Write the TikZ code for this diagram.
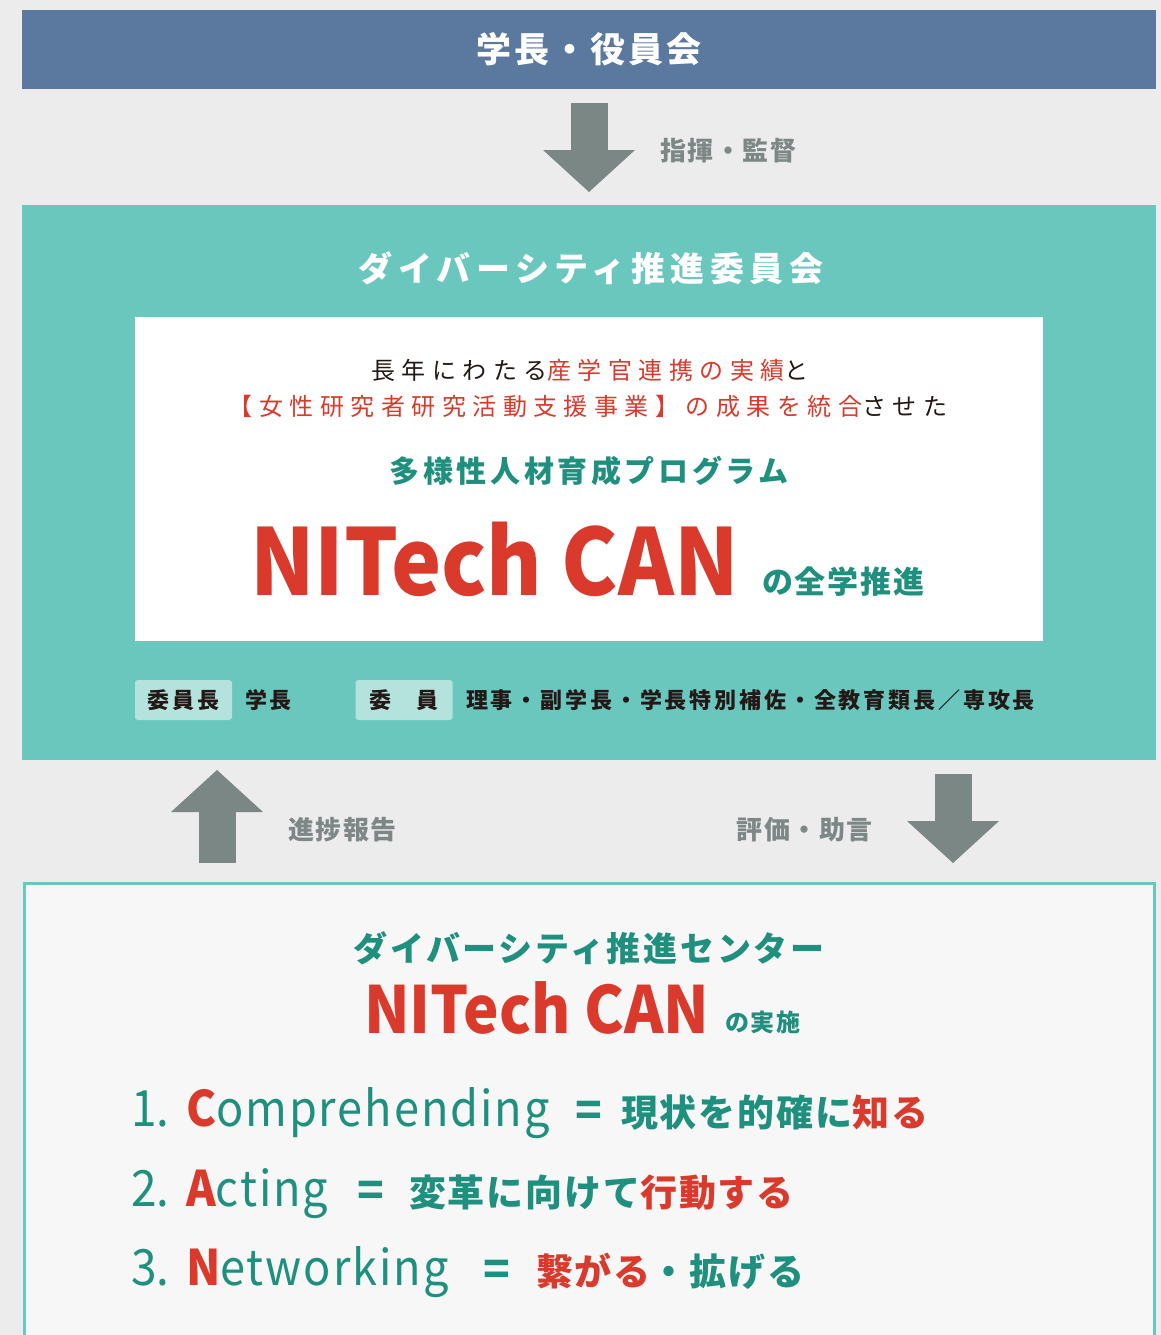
\documentclass[tikz,border=0pt]{standalone}
\usepackage{fontspec}
\setmainfont{Noto Sans CJK JP}
\newfontfamily\canfont[FakeStretch=0.92]{Noto Sans CJK JP}
\usetikzlibrary{arrows.meta}

\definecolor{paper}{HTML}{ECECEC}
\definecolor{boardblue}{HTML}{5B789F}
\definecolor{arrowgray}{HTML}{7A8784}
\definecolor{labelgray}{HTML}{7D8886}
\definecolor{panelteal}{HTML}{6AC7BE}
\definecolor{tagfill}{HTML}{B4E3DE}
\definecolor{ink}{HTML}{231815}
\definecolor{canred}{HTML}{D93A2B}
\definecolor{tealtext}{HTML}{1F8F7E}
\definecolor{centerfill}{HTML}{F7F7F7}

\newcommand{\rd}[1]{\textcolor{canred}{#1}}
\newcommand{\jpsize}[2]{\fontsize{#1}{#1}\selectfont\addfontfeatures{LetterSpace=#2}}

\begin{document}
\begin{tikzpicture}[x=1pt,y=-1pt,
  every node/.style={inner sep=0pt, outer sep=0pt},
  panel/.style={anchor=north west},
  blockarrow/.style={arrowgray, line width=37pt,
    -{Triangle[width=92pt,length=42pt,line width=0pt]}},
  graylabel/.style={text=labelgray, font=\bfseries\jpsize{26}{6}},
  tag/.style={fill=tagfill, rounded corners=3pt, minimum width=97pt,
    minimum height=40pt, text=ink, font=\bfseries\jpsize{22}{12}},
  member/.style={anchor=west, text=ink, font=\bfseries\jpsize{22}{13}},
  lead/.style={text=ink, font=\jpsize{24}{27}},
  itemnum/.style={anchor=base west, text=tealtext, font=\canfont\fontsize{50}{50}\selectfont},
  itemword/.style={anchor=base west, text=tealtext,
    font=\canfont\fontsize{49}{49}\selectfont\addfontfeatures{LetterSpace=4}},
  itemeq/.style={anchor=base west, text=tealtext, font=\bfseries\fontsize{44}{44}\selectfont},
  itemjp/.style={anchor=base west, text=tealtext, font=\bfseries\jpsize{37}{5}},
]
\fill[paper] (0,0) rectangle (1161,1335);
\useasboundingbox (0,0) rectangle (1161,1335);

% top board
\node[panel, fill=boardblue, minimum width=1134pt, minimum height=79pt] (board) at (22,10) {};
\node[text=white, font=\bfseries\jpsize{35}{9}] (boardtitle) at (board.center) {学長・役員会};

% committee
\node[panel, fill=panelteal, minimum width=1134pt, minimum height=555pt] (committee) at (22,205) {};
\node[text=white, font=\bfseries\jpsize{34}{16}] (committeetitle) at (591,268) {ダイバーシティ推進委員会};
\node[panel, fill=white, minimum width=908pt, minimum height=324pt] (program) at (135,317) {};
\node[lead] (lead1) at (590,370) {長年にわたる\rd{産学官連携の実績}と};
\node[lead] (lead2) at (588,406) {\rd{【女性研究者研究活動支援事業】の成果を統合}させた};
\node[text=tealtext, font=\bfseries\jpsize{30}{12}] (progname) at (589,471) {多様性人材育成プログラム};
\node[anchor=base west, text=canred, font=\canfont\bfseries\fontsize{92}{92}\selectfont] (bigcan) at (250,595) {NITech CAN};
\node[anchor=base west, text=tealtext, font=\bfseries\jpsize{31}{6}] (bigcanpost) at (762,593) {の全学推進};

\node[tag] (chairtag) at (183.5,700) {委員長};
\node[member] (chair) at (245,700) {学長};
\node[tag] (membertag) at (404,700) {委\hspace{26pt}員};
\node[member] (members) at (466,700) {理事・副学長・学長特別補佐・全教育類長／専攻長};

% center
\node[panel, fill=centerfill, draw=panelteal, line width=3pt, minimum width=1130pt, minimum height=480pt] (center) at (24,883) {};
\node[text=tealtext, font=\bfseries\jpsize{34}{8}] (centertitle) at (589,948) {ダイバーシティ推進センター};
\node[anchor=base west, text=canred, font=\canfont\bfseries\fontsize{65}{65}\selectfont] (smallcan) at (364,1033) {NITech CAN};
\node[anchor=base west, text=tealtext, font=\bfseries\jpsize{24}{8}] (smallcanpost) at (725,1031) {の実施};

\node[itemnum] (num1) at (131,1126) {1.};
\node[itemword] (word1) at (186,1126) {\rd{\bfseries C}omprehending};
\node[itemeq] (eq1) at (575,1126) {=};
\node[itemjp] (jp1) at (621,1126) {現状を的確に\rd{知る}};

\node[itemnum] (num2) at (131,1206) {2.};
\node[itemword] (word2) at (186,1206) {\rd{\bfseries A}cting};
\node[itemeq] (eq2) at (357,1206) {=};
\node[itemjp] (jp2) at (409,1206) {変革に向けて\rd{行動する}};

\node[itemnum] (num3) at (131,1285) {3.};
\node[itemword] (word3) at (186,1285) {\rd{\bfseries N}etworking};
\node[itemeq] (eq3) at (483,1285) {=};
\node[itemjp] (jp3) at (536,1285) {\rd{繋がる}・拡げる};

% arrows
\draw[blockarrow] ([yshift=-14pt]board.south) -- ([yshift=13pt]committee.north);
\node[graylabel, anchor=west] (supervise) at (660,151) {指揮・監督};
\draw[blockarrow] ([xshift=-372pt,yshift=20pt]center.north) -- ([xshift=-372pt,yshift=-10pt]committee.south);
\node[graylabel, anchor=west] (report) at (288,830) {進捗報告};
\draw[blockarrow] ([xshift=364pt,yshift=-14pt]committee.south) -- ([xshift=364pt,yshift=20pt]center.north);
\node[graylabel, anchor=east] (advice) at (873,830) {評価・助言};
\end{tikzpicture}
\end{document}
